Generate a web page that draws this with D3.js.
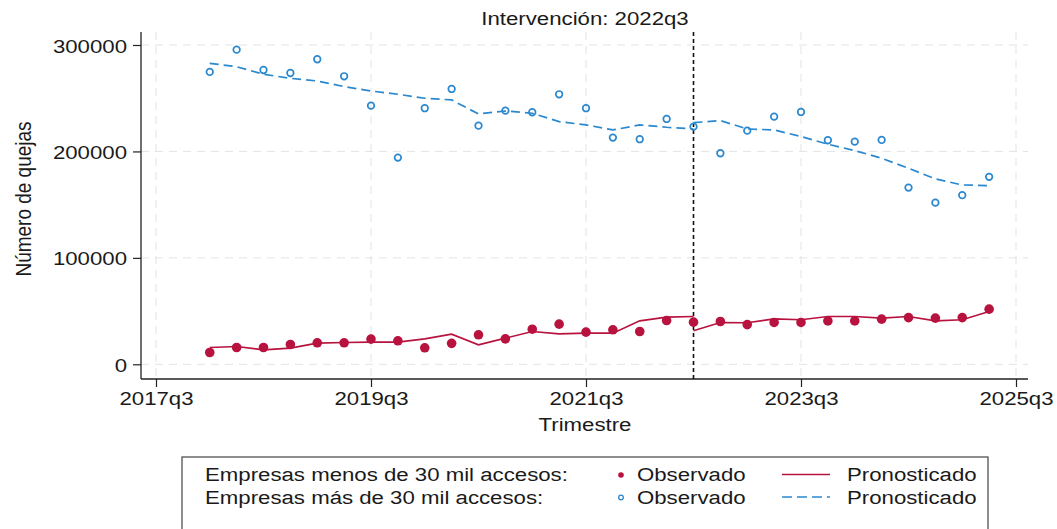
<!DOCTYPE html>
<html lang="es">
<head>
<meta charset="utf-8">
<title>Intervención: 2022q3</title>
<script src="https://cdn.jsdelivr.net/npm/d3@7"></script>
<style>
body { margin: 0; background: #fff; }
text { font-family: "Liberation Sans", Arial, sans-serif; fill: #1a1a1a; }
</style>
</head>
<body>
<script>
// trimestres observados
var quarters = ["2018q1","2018q2","2018q3","2018q4","2019q1","2019q2","2019q3","2019q4",
  "2020q1","2020q2","2020q3","2020q4","2021q1","2021q2","2021q3","2021q4",
  "2022q1","2022q2","2022q3","2022q4","2023q1","2023q2","2023q3","2023q4",
  "2024q1","2024q2","2024q3","2024q4","2025q1","2025q2"];
var intervencion = "2022q3";

// empresas menos de 30 mil accesos
var obsMenos = [11100,15800,15800,18600,20200,20200,23700,22100,15500,19700,27700,23900,
  33000,37700,30200,32400,30800,41100,39600,40200,37300,39300,39300,40800,40800,42400,
  43900,43400,43900,51800];
var predMenosPre = [15800,16700,13600,15200,19900,20500,20800,20800,23900,28300,18300,24600,
  30800,28600,29300,29300,40800,44300,44900];
var predMenosPost = [31500,39300,39000,42700,41800,44900,44900,43400,44900,40800,41800,49600];

// empresas más de 30 mil accesos
var obsMas = [274700,295600,276500,273700,286600,270600,243000,194200,240600,258700,224200,238300,
  236800,253700,240600,213000,211500,230500,223300,198300,219500,232700,237100,210500,209200,
  210800,166000,151900,158900,176100];
var predMasPre = [282800,279600,272500,268700,266200,260900,256800,253700,250000,248400,235200,238000,
  235900,228000,224900,220200,224900,222700,221100];
var predMasPost = [227000,229000,221100,220200,214000,206800,200800,193600,184200,174200,168500,167900];

var xTicks = ["2017q3","2019q3","2021q3","2023q3","2025q3"];
var yTicks = [0, 100000, 200000, 300000];

var red = "#b8123f", blue = "#2a88cf";
var SX = 1.17;   // el gráfico original está estirado en horizontal
var FS = 19;

function qnum(s) { return +s.slice(0, 4) + (+s.slice(5) - 1) / 4; }

var svg = d3.select("body").append("svg")
  .attr("width", 1057)
  .attr("height", 529);

var pLeft = 141, pRight = 1028, pTop = 32, pBottom = 379;

var x = d3.scaleLinear().domain([qnum("2017q3"), qnum("2025q3")]).range([156, 1016]);
var y = d3.scaleLinear().domain([0, 300000]).range([364.3, 45]);

var iPost = quarters.indexOf(intervencion);

/* rejilla */
svg.append("g").selectAll("line").data(yTicks).enter().append("line")
  .attr("x1", pLeft).attr("x2", pRight)
  .attr("y1", function(d) { return y(d); }).attr("y2", function(d) { return y(d); })
  .attr("stroke", "#e3e3e3").attr("stroke-dasharray", "8,6");
svg.append("g").selectAll("line").data(xTicks).enter().append("line")
  .attr("y1", pTop).attr("y2", pBottom)
  .attr("x1", function(d) { return x(qnum(d)); }).attr("x2", function(d) { return x(qnum(d)); })
  .attr("stroke", "#e3e3e3").attr("stroke-dasharray", "8,6");

/* ejes */
var yAxis = svg.append("g").attr("transform", "translate(" + pLeft + ",0)")
  .call(d3.axisLeft(y).tickValues(yTicks).tickSize(8).tickSizeOuter(0).tickFormat(d3.format("d")));
yAxis.select(".domain").remove();
yAxis.selectAll("text")
  .attr("x", null).attr("dy", null)
  .attr("transform", "translate(-14,7) scale(" + SX + ",1)")
  .style("font-size", FS + "px");

var xAxis = svg.append("g").attr("transform", "translate(0," + pBottom + ")")
  .call(d3.axisBottom(x).tickValues(xTicks.map(qnum)).tickSize(8).tickSizeOuter(0)
    .tickFormat(function(d, i) { return xTicks[i]; }));
xAxis.select(".domain").remove();
xAxis.selectAll("text")
  .attr("y", null).attr("dy", null)
  .attr("transform", "translate(0,26) scale(" + SX + ",1)")
  .style("font-size", FS + "px");

svg.selectAll(".tick line").attr("stroke", "#222").attr("stroke-width", 1.2);

svg.append("line").attr("x1", pLeft).attr("x2", pLeft).attr("y1", pTop).attr("y2", pBottom)
  .attr("stroke", "#222").attr("stroke-width", 1.3);
svg.append("line").attr("x1", pLeft).attr("x2", pRight).attr("y1", pBottom).attr("y2", pBottom)
  .attr("stroke", "#222").attr("stroke-width", 1.3);

/* línea de intervención */
svg.append("line")
  .attr("x1", x(qnum(intervencion))).attr("x2", x(qnum(intervencion)))
  .attr("y1", pTop).attr("y2", pBottom)
  .attr("stroke", "#111").attr("stroke-width", 1.6).attr("stroke-dasharray", "4,3");

/* pronósticos */
var line = d3.line()
  .x(function(d) { return x(qnum(d.q)); })
  .y(function(d) { return y(d.v); });

function serie(vals, start) {
  return vals.map(function(v, i) { return { q: quarters[start + i], v: v }; });
}

[predMenosPre, predMenosPost].forEach(function(vals, k) {
  svg.append("path").datum(serie(vals, k === 0 ? 0 : iPost))
    .attr("d", line).attr("fill", "none")
    .attr("stroke", red).attr("stroke-width", 1.6);
});
[predMasPre, predMasPost].forEach(function(vals, k) {
  svg.append("path").datum(serie(vals, k === 0 ? 0 : iPost))
    .attr("d", line).attr("fill", "none")
    .attr("stroke", blue).attr("stroke-width", 1.7).attr("stroke-dasharray", "9,5");
});

/* observados */
svg.append("g").selectAll("circle").data(serie(obsMenos, 0)).enter().append("circle")
  .attr("cx", function(d) { return x(qnum(d.q)); })
  .attr("cy", function(d) { return y(d.v); })
  .attr("r", 4.8)
  .attr("fill", red);
svg.append("g").selectAll("circle").data(serie(obsMas, 0)).enter().append("circle")
  .attr("cx", function(d) { return x(qnum(d.q)); })
  .attr("cy", function(d) { return y(d.v); })
  .attr("r", 3.3)
  .attr("fill", "none").attr("stroke", blue).attr("stroke-width", 1.7);

/* textos */
function label(txt, px, py, anchor) {
  return svg.append("text")
    .attr("transform", "translate(" + px + "," + py + ") scale(" + SX + ",1)")
    .attr("text-anchor", anchor)
    .style("font-size", FS + "px")
    .text(txt);
}
label("Intervención: " + intervencion, 585, 25, "middle");
label("Trimestre", 585, 431, "middle");

svg.append("text")
  .attr("transform", "translate(31,199) scale(" + SX + ",1) rotate(-90)")
  .attr("text-anchor", "middle")
  .style("font-size", FS + "px")
  .text("Número de quejas");

/* leyenda */
svg.append("rect")
  .attr("x", 182).attr("y", 457).attr("width", 806).attr("height", 80)
  .attr("fill", "#fff").attr("stroke", "#444").attr("stroke-width", 1.2);

var legendRows = [
  { grupo: "Empresas menos de 30 mil accesos:", color: red, filled: true, dash: null, base: 481 },
  { grupo: "Empresas más de 30 mil accesos:", color: blue, filled: false, dash: "10,5", base: 503.5 }
];
legendRows.forEach(function(r) {
  label(r.grupo, 205, r.base, "start");
  svg.append("circle").attr("cx", 621).attr("cy", r.base - 6).attr("r", r.filled ? 2.8 : 2.3)
    .attr("fill", r.filled ? r.color : "none")
    .attr("stroke", r.filled ? "none" : r.color).attr("stroke-width", 1.3);
  label("Observado", 637, r.base, "start");
  svg.append("line").attr("x1", 782).attr("x2", 830).attr("y1", r.base - 6.5).attr("y2", r.base - 6.5)
    .attr("stroke", r.color).attr("stroke-width", 1.6)
    .attr("stroke-dasharray", r.dash);
  label("Pronosticado", 847, r.base, "start");
});
</script>
</body>
</html>
